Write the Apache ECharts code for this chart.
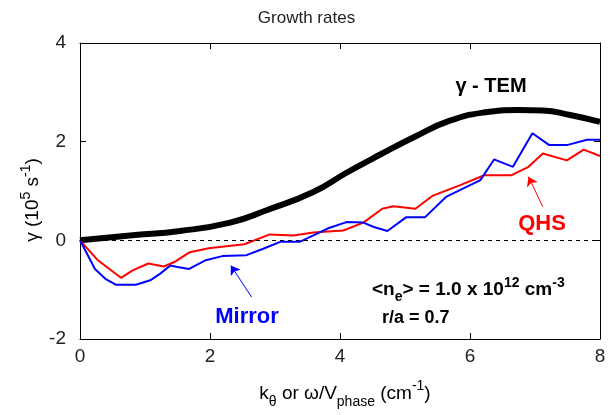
<!DOCTYPE html>
<html><head><meta charset="utf-8">
<script src="https://cdn.jsdelivr.net/npm/echarts@6/dist/echarts.min.js"></script>
<style>html,body{margin:0;padding:0;background:#fff}#c{width:613px;height:415px}</style>
</head><body><div id="c"></div>
<script>
// ---- data ----
const xTicks = [0, 2, 4, 6, 8];
const yTicks = [-2, 0, 2, 4];
const kTEM = [0, 0.77, 1.54, 2.31, 2.87, 3.59, 4.10, 4.62, 5.15, 5.68, 6.21, 6.74, 7.12, 7.54, 8.0];
const gTEM = [0, 0.10, 0.19, 0.36, 0.61, 0.98, 1.37, 1.74, 2.10, 2.42, 2.59, 2.64, 2.63, 2.54, 2.40];
const kMirror = [0, 0.23, 0.39, 0.55, 0.86, 1.08, 1.23, 1.39, 1.50, 1.68, 1.92, 2.19, 2.56, 2.82, 3.08, 3.38, 3.59, 3.83, 4.10, 4.36, 4.52, 4.73, 5.02, 5.31, 5.63, 6.16, 6.37, 6.66, 6.96, 7.22, 7.49, 7.80, 8.0];
const gMirror = [0, -0.58, -0.78, -0.90, -0.90, -0.81, -0.68, -0.51, -0.54, -0.58, -0.41, -0.32, -0.30, -0.17, -0.03, -0.03, 0.10, 0.25, 0.37, 0.36, 0.27, 0.19, 0.47, 0.47, 0.88, 1.22, 1.64, 1.49, 2.17, 1.93, 1.93, 2.04, 2.04];
const kQHS = [0, 0.28, 0.63, 0.81, 1.05, 1.29, 1.45, 1.69, 1.98, 2.53, 2.92, 3.28, 3.59, 4.05, 4.36, 4.65, 4.82, 5.16, 5.42, 5.85, 6.22, 6.64, 6.90, 7.12, 7.49, 7.75, 8.0];
const gQHS = [0, -0.41, -0.76, -0.61, -0.47, -0.53, -0.44, -0.24, -0.16, -0.08, 0.12, 0.10, 0.16, 0.20, 0.36, 0.64, 0.69, 0.64, 0.90, 1.12, 1.32, 1.32, 1.49, 1.76, 1.62, 1.84, 1.71];
const arrowQHS = [[7.12, 0.68], [6.90, 1.29]];
const arrowMirror = [[2.64, -1.15], [2.32, -0.51]];

// ---- chart ----
const F = '"Liberation Sans", Arial, Helvetica, sans-serif';
const zip = (a, b) => a.map((v, i) => [v, b[i]]);
const chart = echarts.init(document.getElementById('c'), null, {renderer: 'canvas'});

const axisCommon = {
  type: 'value',
  axisLine: {show: true, onZero: false, lineStyle: {color: '#000', width: 1}},
  axisTick: {show: true, inside: true, length: 6, lineStyle: {color: '#000', width: 1}},
  splitLine: {show: false}
};
const labelStyle = {fontSize: 19, color: '#222', fontFamily: F};

const option = {
  animation: false,
  backgroundColor: '#fff',
  title: {text: 'Growth rates', left: 'center', top: 5,
    textStyle: {fontSize: 17, fontWeight: 'normal', color: '#222', fontFamily: F}},
  grid: {left: 80, right: 13, top: 43, bottom: 76},
  xAxis: [
    Object.assign({}, axisCommon, {position: 'bottom', min: xTicks[0], max: xTicks[xTicks.length - 1], interval: 2,
      axisLabel: Object.assign({margin: 8}, labelStyle)}),
    Object.assign({}, axisCommon, {position: 'top', min: xTicks[0], max: xTicks[xTicks.length - 1], interval: 2,
      axisLabel: {show: false}})
  ],
  yAxis: [
    Object.assign({}, axisCommon, {position: 'left', min: yTicks[0], max: yTicks[yTicks.length - 1], interval: 2,
      axisLabel: Object.assign({margin: 14}, labelStyle)}),
    Object.assign({}, axisCommon, {position: 'right', min: yTicks[0], max: yTicks[yTicks.length - 1], interval: 2,
      axisLabel: {show: false}})
  ],
  series: [
    {name: 'γ - TEM', type: 'line', data: zip(kTEM, gTEM), smooth: 0.5, showSymbol: false,
      lineStyle: {color: '#000', width: 6}, z: 2,
      markLine: {silent: true, symbol: ['none', 'none'], label: {show: false},
        lineStyle: {type: [4, 4], color: '#000', width: 1},
        data: [{yAxis: 0}]}},
    {name: 'QHS', type: 'line', data: zip(kQHS, gQHS), showSymbol: false,
      lineStyle: {color: '#ff0000', width: 2}, z: 3,
      markLine: {silent: true, symbol: ['none', 'arrow'], symbolSize: 9, label: {show: false},
        lineStyle: {type: 'solid', color: '#ff0000', width: 1},
        data: [[{coord: arrowQHS[0]}, {coord: arrowQHS[1]}]]}},
    {name: 'Mirror', type: 'line', data: zip(kMirror, gMirror), showSymbol: false,
      lineStyle: {color: '#0000ff', width: 2}, z: 4,
      markLine: {silent: true, symbol: ['none', 'arrow'], symbolSize: 9, label: {show: false},
        lineStyle: {type: 'solid', color: '#0000ff', width: 1},
        data: [[{coord: arrowMirror[0]}, {coord: arrowMirror[1]}]]}}
  ],
  graphic: [
    {type: 'text', x: 491, y: 86, style: {text: 'γ - TEM', fill: '#000',
      font: 'bold 20px ' + F, textAlign: 'center', textVerticalAlign: 'middle'}},
    {type: 'text', x: 542, y: 224, style: {text: 'QHS', fill: '#ff0000',
      font: 'bold 22px ' + F, textAlign: 'center', textVerticalAlign: 'middle'}},
    {type: 'text', x: 247, y: 317, style: {text: 'Mirror', fill: '#0000ff',
      font: 'bold 22px ' + F, textAlign: 'center', textVerticalAlign: 'middle'}},
    {type: 'text', x: 372, y: 290, style: {
      text: '{n|<n}{sub|e}{n|> = 1.0 x 10}{sup|12}{n| cm}{sup|-3}',
      textAlign: 'left', textVerticalAlign: 'middle',
      rich: {
        n: {font: 'bold 19px ' + F, fill: '#000', lineHeight: 28, verticalAlign: 'middle'},
        sub: {font: 'bold 14px ' + F, fill: '#000', lineHeight: 13, verticalAlign: 'bottom'},
        sup: {font: 'bold 14px ' + F, fill: '#000', lineHeight: 13, verticalAlign: 'top'}
      }}},
    {type: 'text', x: 382, y: 318, style: {text: 'r/a = 0.7', fill: '#000',
      font: 'bold 18px ' + F, textAlign: 'left', textVerticalAlign: 'middle'}},
    {type: 'text', x: 345, y: 394, style: {
      text: '{n|k}{sub|θ}{n| or ω/V}{sub|phase}{n| (cm}{sup|-1}{n|)}',
      textAlign: 'center', textVerticalAlign: 'middle',
      rich: {
        n: {fontSize: 19, fontFamily: F, color: '#222', lineHeight: 30, verticalAlign: 'middle'},
        sub: {fontSize: 14, fontFamily: F, color: '#222', lineHeight: 14, verticalAlign: 'bottom'},
        sup: {fontSize: 14, fontFamily: F, color: '#222', lineHeight: 14, verticalAlign: 'top'}
      }}},
    {type: 'text', x: 33, y: 200, rotation: Math.PI / 2, style: {
      text: '{n|γ (10}{sup|5}{n| s}{sup|-1}{n|)}',
      textAlign: 'center', textVerticalAlign: 'middle',
      rich: {
        n: {fontSize: 19, fontFamily: F, color: '#222', lineHeight: 28, verticalAlign: 'middle'},
        sup: {fontSize: 14, fontFamily: F, color: '#222', lineHeight: 14, verticalAlign: 'top'}
      }}}
  ]
};
chart.setOption(option);
</script>
</body></html>
